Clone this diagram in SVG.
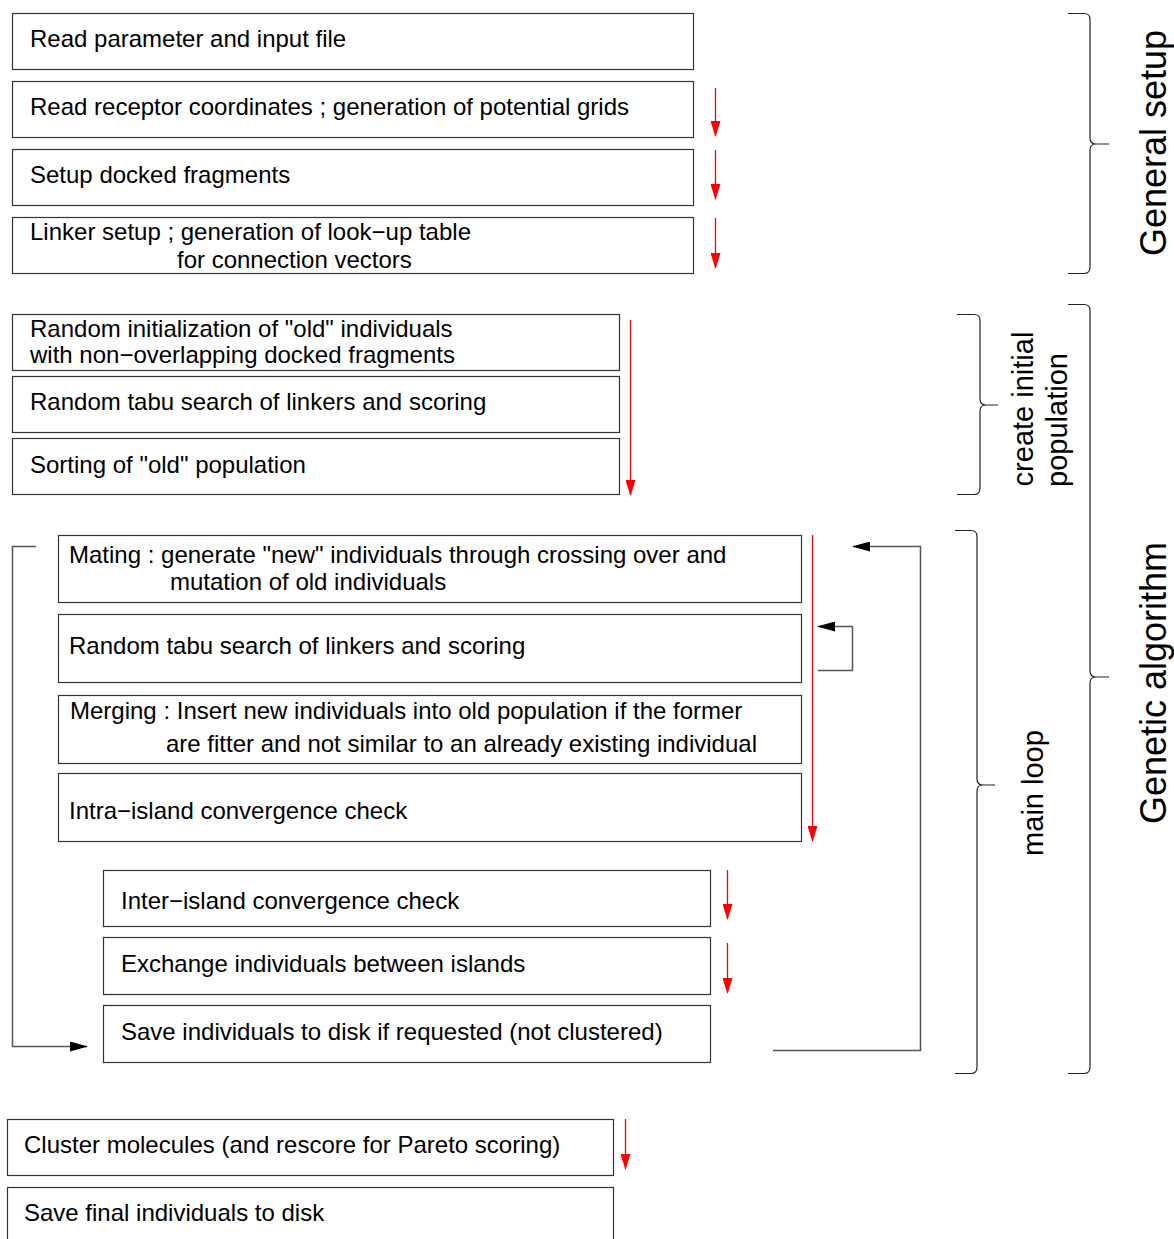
<svg xmlns="http://www.w3.org/2000/svg" width="1174" height="1239" viewBox="0 0 1174 1239">
<style>
.box{fill:#fff;stroke:#333;stroke-width:1.2}
.t{font-family:"Liberation Sans",Arial,sans-serif;font-size:24px;fill:#000}
.big{font-family:"Liberation Sans",Arial,sans-serif;font-size:36px;fill:#000;text-anchor:middle}
.mid{font-family:"Liberation Sans",Arial,sans-serif;font-size:29px;fill:#000;text-anchor:middle}
.red{fill:none;stroke:#f00;stroke-width:1.3;marker-end:url(#ar)}
.blk{fill:none;stroke:#555;stroke-width:1.5;marker-end:url(#ab)}
.brace{fill:none;stroke:#222;stroke-width:1.2}
</style>
<defs>
<marker id="ar" markerUnits="userSpaceOnUse" markerWidth="16" markerHeight="10" refX="15" refY="5" orient="auto"><path d="M0,0 L16,5 L0,10 z" fill="#f00"/></marker>
<marker id="ab" markerUnits="userSpaceOnUse" markerWidth="18" markerHeight="10" refX="17" refY="5" orient="auto"><path d="M0,0 L18,5 L0,10 z" fill="#000"/></marker>
</defs>
<rect width="1174" height="1239" fill="#fff"/>

<g id="n1"><rect class="box" x="12.5" y="13.5" width="681" height="56"/><text class="t" x="30" y="47">Read parameter and input file</text></g>
<g id="n2"><rect class="box" x="12.5" y="81.5" width="681" height="56"/><text class="t" x="30" y="115">Read receptor coordinates ; generation of potential grids</text></g>
<g id="n3"><rect class="box" x="12.5" y="149.5" width="681" height="56"/><text class="t" x="30" y="183">Setup docked fragments</text></g>
<g id="n4"><rect class="box" x="12.5" y="217.5" width="681" height="56"/><text class="t" x="30" y="240">Linker setup ; generation of look−up table</text><text class="t" x="177" y="268">for connection vectors</text></g>

<g id="n5"><rect class="box" x="12.5" y="314.5" width="607" height="56"/><text class="t" x="30" y="337">Random initialization of "old" individuals</text><text class="t" x="30" y="363">with non−overlapping docked fragments</text></g>
<g id="n6"><rect class="box" x="12.5" y="376.5" width="607" height="56"/><text class="t" x="30" y="410">Random tabu search of linkers and scoring</text></g>
<g id="n7"><rect class="box" x="12.5" y="438.5" width="607" height="56"/><text class="t" x="30" y="473">Sorting of "old" population</text></g>

<g id="n8"><rect class="box" x="58.5" y="535.5" width="743" height="67"/><text class="t" x="69" y="563">Mating : generate "new" individuals through crossing over and</text><text class="t" x="170" y="590">mutation of old individuals</text></g>
<g id="n9"><rect class="box" x="58.5" y="614.5" width="743" height="68"/><text class="t" x="69" y="654">Random tabu search of linkers and scoring</text></g>
<g id="n10"><rect class="box" x="58.5" y="695.5" width="743" height="68"/><text class="t" x="70" y="719">Merging : Insert new individuals into old population if the former</text><text class="t" x="166" y="752">are fitter and not similar to an already existing individual</text></g>
<g id="n11"><rect class="box" x="58.5" y="773.5" width="743" height="68"/><text class="t" x="69" y="819">Intra−island convergence check</text></g>

<g id="n12"><rect class="box" x="103.5" y="870.5" width="607" height="56"/><text class="t" x="121" y="909">Inter−island convergence check</text></g>
<g id="n13"><rect class="box" x="103.5" y="937.5" width="607" height="57"/><text class="t" x="121" y="972">Exchange individuals between islands</text></g>
<g id="n14"><rect class="box" x="103.5" y="1005.5" width="607" height="57"/><text class="t" x="121" y="1040">Save individuals to disk if requested (not clustered)</text></g>

<g id="n15"><rect class="box" x="7.5" y="1119.5" width="606" height="56"/><text class="t" x="24" y="1153">Cluster molecules (and rescore for Pareto scoring)</text></g>
<g id="n16"><rect class="box" x="7.5" y="1187.5" width="606" height="60"/><text class="t" x="24" y="1221">Save final individuals to disk</text></g>

<g id="connectors">
<path class="red" d="M715.5,88 V136"/>
<path class="red" d="M715.5,150 V199"/>
<path class="red" d="M715.5,218 V268"/>
<path class="red" d="M630.5,320 V495"/>
<path class="red" d="M812.5,535 V841"/>
<path class="red" d="M727.5,870 V919"/>
<path class="red" d="M727.5,943 V993"/>
<path class="red" d="M625.5,1119 V1169"/>
<path class="blk" d="M818,670.5 H852.5 V626.5 H818"/>
<path class="blk" d="M773,1050.5 H920.5 V546.5 H853"/>
<path class="blk" d="M36,546.5 H12.5 V1046.5 H87"/>
</g>

<g id="braces">
<path class="brace" d="M1068,13.5 H1084 Q1090,13.5 1090,19.5 V138 Q1090,144 1096,144 H1109 M1096,144 Q1090,144 1090,150 V267 Q1090,273.5 1084,273.5 H1068"/>
<path class="brace" d="M1068,304.5 H1084 Q1090,304.5 1090,310.5 V671 Q1090,677 1096,677 H1109 M1096,677 Q1090,677 1090,683 V1067 Q1090,1073.5 1084,1073.5 H1068"/>
<path class="brace" d="M957,314.5 H974 Q980,314.5 980,320.5 V399 Q980,405 986,405 H998 M986,405 Q980,405 980,411 V488 Q980,494.5 974,494.5 H957"/>
<path class="brace" d="M955,530.5 H971 Q977,530.5 977,536.5 V779 Q977,785 983,785 H995 M983,785 Q977,785 977,791 V1067 Q977,1073.5 971,1073.5 H955"/>
</g>

<g id="labels">
<text class="big" transform="translate(1166,143) rotate(-90)">General setup</text>
<text class="big" transform="translate(1166,683) rotate(-90)">Genetic algorithm</text>
<text class="mid" transform="translate(1033,409) rotate(-90)">create initial</text>
<text class="mid" transform="translate(1067,420) rotate(-90)">population</text>
<text class="mid" transform="translate(1043,793) rotate(-90)">main loop</text>
</g>
</svg>
